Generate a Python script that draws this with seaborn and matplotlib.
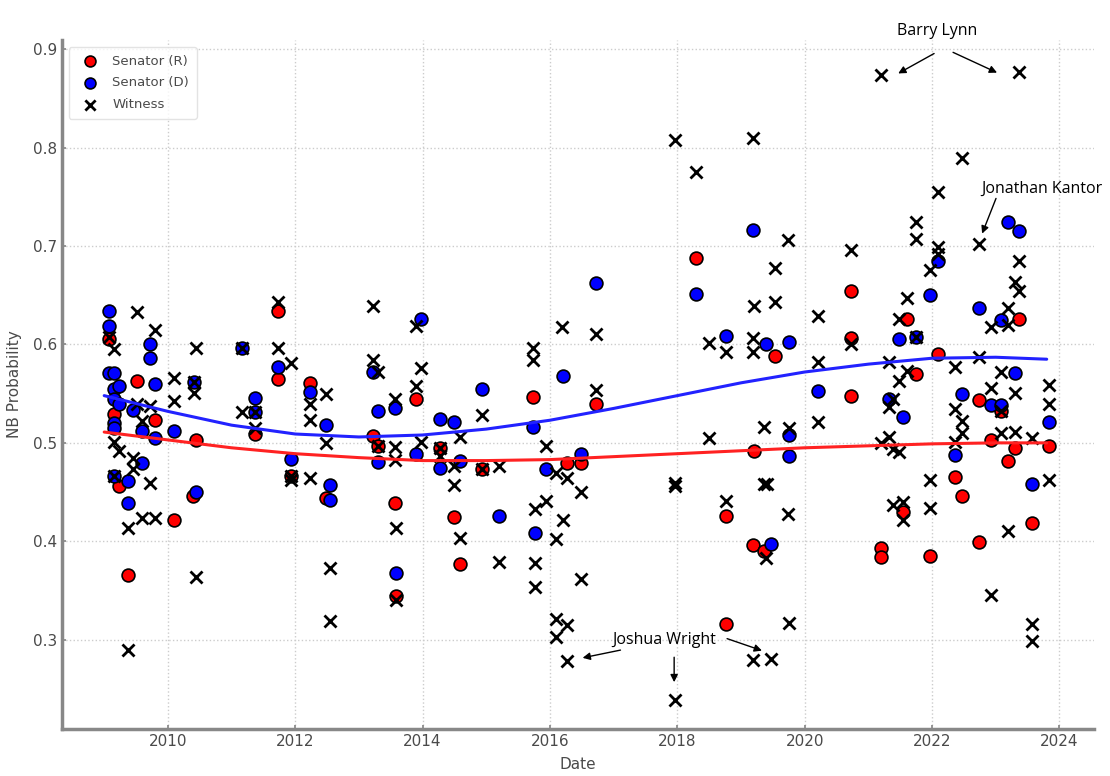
import numpy as np
import pandas as pd
import matplotlib
matplotlib.use("Agg")
import matplotlib.pyplot as plt
import seaborn as sns

# Senator (R) points: date (decimal year), NB probability
rep_date = [2009.08, 2011.73, 2011.73, 2009.52, 2009.80, 2009.15, 2010.44, 2011.37, 2012.23,
            2011.93, 2009.23, 2010.09, 2010.40, 2012.48, 2009.38,
            2015.74, 2016.73, 2013.89, 2013.22, 2013.30, 2014.28, 2014.94, 2016.27, 2016.48,
            2013.57, 2014.49, 2014.58, 2013.59,
            2018.29, 2020.72, 2019.54, 2020.72, 2020.72, 2019.20, 2018.77, 2019.19, 2019.36, 2018.77,
            2021.60, 2023.36, 2022.10, 2021.74, 2022.73, 2023.09, 2022.93, 2023.31, 2023.84, 2023.20,
            2022.36, 2022.47, 2021.54, 2023.57, 2021.20, 2021.20, 2021.96, 2022.73]
rep_prob = [0.606, 0.634, 0.565, 0.563, 0.523, 0.529, 0.503, 0.509, 0.561,
            0.466, 0.456, 0.422, 0.446, 0.444, 0.366,
            0.547, 0.539, 0.545, 0.507, 0.497, 0.495, 0.473, 0.480, 0.480,
            0.439, 0.425, 0.377, 0.344,
            0.688, 0.654, 0.588, 0.607, 0.548, 0.492, 0.426, 0.396, 0.390, 0.316,
            0.626, 0.626, 0.590, 0.570, 0.544, 0.532, 0.503, 0.495, 0.497, 0.482,
            0.465, 0.446, 0.430, 0.419, 0.393, 0.384, 0.385, 0.399]

# Senator (D) points
dem_date = [2009.08, 2009.08, 2009.08, 2009.15, 2009.72, 2009.72, 2011.16, 2011.73, 2009.80,
            2010.41, 2009.15, 2009.23, 2009.15, 2009.23, 2009.46, 2009.59, 2009.80, 2009.15,
            2009.15, 2010.09, 2011.37, 2011.37, 2012.23, 2012.48, 2009.59, 2009.15, 2009.38,
            2009.38, 2010.44, 2011.93, 2012.54, 2012.54,
            2016.73, 2013.97, 2016.20, 2014.94, 2013.30, 2013.57, 2014.28, 2014.49, 2015.74,
            2013.22, 2013.30, 2013.89, 2014.28, 2014.58, 2015.94, 2016.48, 2015.20, 2015.77, 2013.59,
            2019.19, 2018.29, 2018.77, 2019.40, 2019.75, 2020.21, 2019.75, 2019.75, 2019.47,
            2023.20, 2023.36, 2022.10, 2021.96, 2022.73, 2023.09, 2021.48, 2021.74, 2023.31,
            2021.32, 2022.47, 2021.54, 2022.93, 2023.09, 2023.84, 2022.36, 2023.57]
dem_prob = [0.634, 0.619, 0.571, 0.571, 0.600, 0.586, 0.596, 0.577, 0.560,
            0.562, 0.555, 0.558, 0.545, 0.540, 0.533, 0.512, 0.505, 0.520,
            0.515, 0.512, 0.531, 0.546, 0.552, 0.518, 0.480, 0.466, 0.461,
            0.439, 0.450, 0.484, 0.457, 0.442,
            0.662, 0.626, 0.568, 0.555, 0.532, 0.535, 0.524, 0.521, 0.516,
            0.572, 0.481, 0.489, 0.474, 0.482, 0.473, 0.489, 0.426, 0.408, 0.368,
            0.716, 0.651, 0.609, 0.600, 0.603, 0.553, 0.508, 0.487, 0.397,
            0.724, 0.715, 0.685, 0.650, 0.637, 0.625, 0.606, 0.608, 0.571,
            0.545, 0.550, 0.526, 0.538, 0.538, 0.521, 0.488, 0.458]

# Witness points
wit_date = [2009.08, 2009.15, 2009.52, 2009.80, 2010.44, 2011.16, 2011.73, 2011.73, 2011.93,
            2010.09, 2010.41, 2010.41, 2010.09, 2009.52, 2009.72, 2009.59, 2011.16, 2011.37,
            2011.37, 2012.23, 2012.23, 2012.48, 2012.48, 2009.15, 2009.23, 2009.46, 2009.46,
            2009.15, 2009.72, 2011.93, 2011.93, 2012.23, 2009.59, 2009.80, 2009.38, 2010.44,
            2012.54, 2012.54, 2009.38,
            2013.22, 2013.89, 2016.19, 2016.73, 2015.74, 2015.74, 2013.22, 2013.30, 2013.97,
            2013.89, 2016.73, 2014.94, 2013.57, 2013.30, 2013.57, 2013.57, 2013.97, 2014.58,
            2014.28, 2014.28, 2014.49, 2014.49, 2014.94, 2015.20, 2015.94, 2016.10, 2016.27,
            2016.48, 2015.94, 2015.77, 2016.20, 2016.10, 2013.59, 2014.58, 2015.20, 2015.77,
            2015.77, 2016.48, 2013.59, 2016.10, 2016.27, 2016.10, 2016.27,
            2017.96, 2019.19, 2018.29, 2019.73, 2019.54, 2020.72, 2019.20, 2019.54, 2020.21,
            2018.50, 2018.77, 2019.19, 2019.19, 2020.72, 2020.21, 2020.21, 2018.50, 2019.36,
            2019.75, 2017.96, 2017.96, 2019.36, 2019.41, 2018.77, 2019.73, 2019.39, 2019.75,
            2019.19, 2019.47, 2017.96,
            2021.20, 2023.36, 2022.47, 2022.10, 2021.74, 2021.74, 2022.73, 2022.10, 2022.10,
            2021.96, 2023.36, 2023.31, 2023.36, 2021.60, 2023.20, 2021.48, 2022.93, 2023.20,
            2021.74, 2021.32, 2022.36, 2022.73, 2021.60, 2021.48, 2023.09, 2021.39, 2021.32,
            2022.93, 2023.31, 2023.84, 2023.84, 2022.36, 2022.47, 2022.47, 2021.20, 2021.32,
            2021.48, 2021.39, 2022.36, 2023.09, 2023.31, 2023.57, 2023.09, 2021.96, 2023.84,
            2021.39, 2021.54, 2021.54, 2021.96, 2023.20, 2022.93, 2023.57, 2023.57]
wit_prob = [0.608, 0.595, 0.633, 0.615, 0.596, 0.596, 0.643, 0.596, 0.581,
            0.566, 0.562, 0.551, 0.543, 0.539, 0.537, 0.522, 0.531, 0.531,
            0.515, 0.540, 0.523, 0.550, 0.500, 0.501, 0.492, 0.485, 0.473,
            0.466, 0.459, 0.466, 0.462, 0.464, 0.424, 0.424, 0.413, 0.364,
            0.373, 0.319, 0.290,
            0.639, 0.619, 0.618, 0.611, 0.596, 0.584, 0.584, 0.572, 0.576,
            0.558, 0.554, 0.528, 0.545, 0.497, 0.496, 0.483, 0.501, 0.506,
            0.495, 0.487, 0.476, 0.457, 0.473, 0.477, 0.497, 0.469, 0.464,
            0.450, 0.441, 0.433, 0.422, 0.402, 0.414, 0.403, 0.379, 0.378,
            0.354, 0.362, 0.340, 0.321, 0.315, 0.303, 0.278,
            0.808, 0.810, 0.775, 0.706, 0.678, 0.696, 0.639, 0.643, 0.629,
            0.601, 0.592, 0.607, 0.592, 0.600, 0.582, 0.521, 0.505, 0.516,
            0.515, 0.459, 0.456, 0.458, 0.458, 0.441, 0.428, 0.383, 0.317,
            0.279, 0.280, 0.239,
            0.874, 0.877, 0.789, 0.755, 0.724, 0.707, 0.702, 0.699, 0.692,
            0.676, 0.685, 0.663, 0.654, 0.647, 0.637, 0.626, 0.618, 0.620,
            0.608, 0.582, 0.577, 0.587, 0.573, 0.563, 0.572, 0.545, 0.536,
            0.556, 0.551, 0.559, 0.539, 0.534, 0.522, 0.510, 0.500, 0.506,
            0.491, 0.494, 0.501, 0.510, 0.511, 0.505, 0.532, 0.462, 0.462,
            0.437, 0.440, 0.422, 0.434, 0.410, 0.345, 0.316, 0.299]

# smoothed trend lines
trend_date = [2009.0, 2010, 2011, 2012, 2013, 2014, 2015, 2016, 2017, 2018, 2019, 2020,
              2021, 2022, 2023, 2023.8]
trend_dem = [0.548, 0.532, 0.518, 0.509, 0.506, 0.508, 0.514, 0.523, 0.535, 0.548, 0.561,
             0.572, 0.580, 0.586, 0.587, 0.585]
trend_rep = [0.511, 0.503, 0.495, 0.489, 0.485, 0.482, 0.482, 0.483, 0.486, 0.489, 0.492,
             0.495, 0.497, 0.499, 0.500, 0.500]

sns.set_theme(style="ticks")
plt.rcParams['font.family'] = ['DejaVu Sans']

fig = plt.figure(figsize=(11.1, 7.76), dpi=100)
ax = fig.add_axes([0.056, 0.061, 0.93, 0.887])

grey = "#4a4a4a"

sns.scatterplot(x=rep_date, y=rep_prob, ax=ax, color="red", edgecolor="black",
                linewidth=1.2, s=85, marker="o", label="Senator (R)", zorder=3)
sns.scatterplot(x=dem_date, y=dem_prob, ax=ax, color="blue", edgecolor="black",
                linewidth=1.2, s=85, marker="o", label="Senator (D)", zorder=3)
sns.scatterplot(x=wit_date, y=wit_prob, ax=ax, color="black", linewidth=2,
                s=75, marker="x", label="Witness", zorder=4)

sns.lineplot(x=trend_date, y=trend_dem, ax=ax, color="#2222ff", lw=2.2, zorder=5)
sns.lineplot(x=trend_date, y=trend_rep, ax=ax, color="#ff2222", lw=2.2, zorder=5)

ax.set_xlim(2008.34, 2024.55)
ax.set_ylim(0.2096, 0.909)
ax.set_xticks([2010, 2012, 2014, 2016, 2018, 2020, 2022, 2024])
ax.set_xticklabels([str(y) for y in range(2010, 2025, 2)])
ax.set_yticks([0.3, 0.4, 0.5, 0.6, 0.7, 0.8, 0.9])

ax.grid(True, linestyle=":", color="#cccccc", lw=1)
for side in ["top", "right"]:
    ax.spines[side].set_visible(False)
for side in ["left", "bottom"]:
    ax.spines[side].set_color("#888888")
    ax.spines[side].set_linewidth(2.5)
ax.tick_params(direction="in", length=3, color="#888888", labelcolor=grey, labelsize=11)

ax.set_xlabel("Date", color=grey, fontsize=11, labelpad=6)
ax.set_ylabel("NB Probability", color=grey, fontsize=11, labelpad=8)

leg = ax.legend(loc="upper left", fontsize=9.5, frameon=True, borderpad=0.6,
                handletextpad=0.7, labelspacing=0.65, markerscale=0.85)
leg.get_frame().set_edgecolor("#dddddd")
for t in leg.get_texts():
    t.set_color(grey)

# annotations
note = dict(family="Open Sans", fontsize=11.5, color="black")
arrow = dict(arrowstyle="-|>", color="black", lw=1, mutation_scale=11)

ax.text(2022.08, 0.919, "Barry Lynn", ha="center", va="center", clip_on=False, **note)
ax.annotate("", xy=(2021.43, 0.874), xytext=(2022.07, 0.897), arrowprops=arrow,
            annotation_clip=False)
ax.annotate("", xy=(2023.06, 0.875), xytext=(2022.29, 0.898), arrowprops=arrow,
            annotation_clip=False)

ax.text(2022.77, 0.758, "Jonathan Kantor", ha="left", va="center", clip_on=False, **note)
ax.annotate("", xy=(2022.77, 0.710), xytext=(2023.02, 0.751), arrowprops=arrow)

ax.text(2017.79, 0.300, "Joshua Wright", ha="center", va="center", **note)
ax.annotate("", xy=(2016.47, 0.281), xytext=(2017.15, 0.290), arrowprops=arrow)
ax.annotate("", xy=(2017.95, 0.254), xytext=(2017.95, 0.285), arrowprops=arrow)
ax.annotate("", xy=(2019.37, 0.288), xytext=(2018.74, 0.302), arrowprops=arrow)

fig.savefig("out.png", dpi=100)
